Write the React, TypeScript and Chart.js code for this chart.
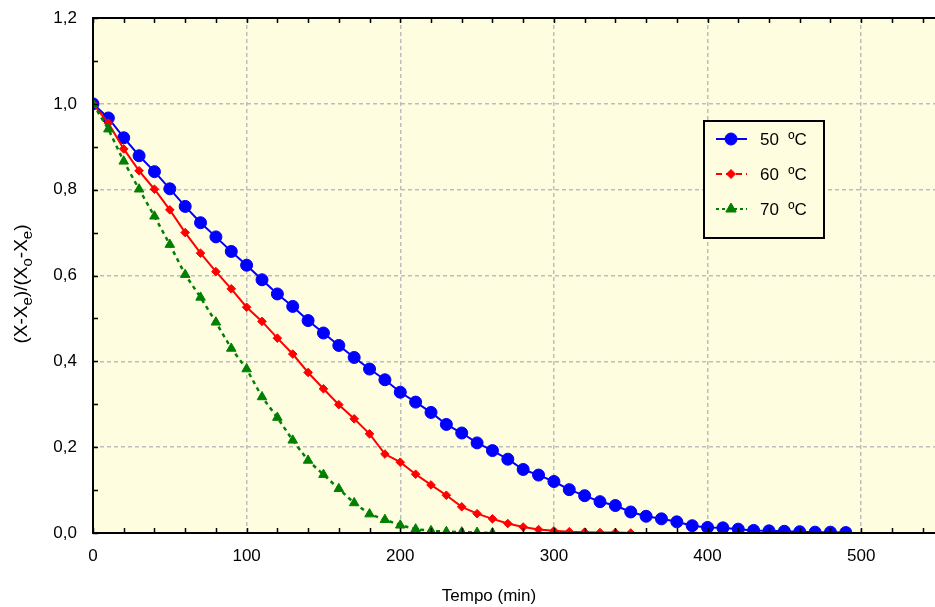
import React, { useEffect, useRef } from "react";
import { Chart, registerables } from "chart.js";

Chart.register(...registerables);

// Time (min), sampled every 10 minutes
const timeMin = [
  0, 10, 20, 30, 40, 50, 60, 70, 80, 90,
  100, 110, 120, 130, 140, 150, 160, 170, 180, 190,
  200, 210, 220, 230, 240, 250, 260, 270, 280, 290,
  300, 310, 320, 330, 340, 350, 360, 370, 380, 390,
  400, 410, 420, 430, 440, 450, 460, 470, 480, 490,
];

const series50 = [
  1.0, 0.967, 0.921, 0.879, 0.842, 0.802, 0.761, 0.723, 0.69, 0.656,
  0.624, 0.59, 0.557, 0.528, 0.495, 0.466, 0.437, 0.409, 0.382, 0.357,
  0.328, 0.305, 0.281, 0.253, 0.233, 0.21, 0.192, 0.172, 0.148, 0.135,
  0.12, 0.101, 0.087, 0.073, 0.064, 0.049, 0.039, 0.033, 0.026, 0.017,
  0.013, 0.012, 0.009, 0.006, 0.005, 0.004, 0.003, 0.002, 0.002, 0.001,
];

const series60 = [
  1.0, 0.955, 0.895, 0.844, 0.801, 0.753, 0.7, 0.652, 0.609, 0.569,
  0.526, 0.493, 0.454, 0.417, 0.374, 0.336, 0.299, 0.266, 0.231, 0.184,
  0.165, 0.137, 0.112, 0.088, 0.061, 0.045, 0.033, 0.022, 0.014, 0.008,
  0.005, 0.003, 0.002, 0.001, 0.001, 0.0,
];

const series70 = [
  1.0, 0.941, 0.866, 0.801, 0.738, 0.672, 0.602, 0.549, 0.491, 0.43,
  0.382, 0.317, 0.269, 0.216, 0.169, 0.136, 0.103, 0.07, 0.044, 0.031,
  0.018, 0.009, 0.005, 0.003, 0.002, 0.001, 0.0,
];

const seriesLabels = ["50  ºC", "60  ºC", "70  ºC"];
const xTitle = "Tempo (min)";
const yTitleParts: [string, boolean][] = [
  ["(X-X", false],
  ["e", true],
  [")/(X", false],
  ["o", true],
  ["-X", false],
  ["e", true],
  [")", false],
];
const xMax = 550;
const yMax = 1.2;

const FONT = "'Liberation Sans', Arial, Helvetica, sans-serif";
const BG = "#fffde0";

const toPoints = (ys: number[]) => ys.map((y, i) => ({ x: timeMin[i], y }));

function drawMarker(ctx: CanvasRenderingContext2D, style: string, r: number, x: number, y: number) {
  ctx.beginPath();
  if (style === "circle") {
    ctx.arc(x, y, r, 0, Math.PI * 2);
  } else if (style === "rectRot") {
    ctx.moveTo(x, y - r);
    ctx.lineTo(x + r, y);
    ctx.lineTo(x, y + r);
    ctx.lineTo(x - r, y);
    ctx.closePath();
  } else {
    ctx.moveTo(x, y - r);
    ctx.lineTo(x + r * 0.866, y + r * 0.5);
    ctx.lineTo(x - r * 0.866, y + r * 0.5);
    ctx.closePath();
  }
  ctx.fill();
  ctx.stroke();
}

export default function App() {
  const canvasRef = useRef<HTMLCanvasElement | null>(null);

  useEffect(() => {
    const canvas = canvasRef.current;
    if (!canvas) return;

    const decorPlugin = {
      id: "decor",
      beforeDraw(chart: any) {
        const { ctx, chartArea: a } = chart;
        ctx.save();
        ctx.fillStyle = "#ffffff";
        ctx.fillRect(0, 0, chart.width, chart.height);
        ctx.fillStyle = BG;
        ctx.fillRect(a.left, a.top, a.right - a.left, a.bottom - a.top);
        ctx.restore();
      },
      afterDraw(chart: any) {
        const { ctx, chartArea: a } = chart;
        const xs = chart.scales.x;
        const ys = chart.scales.y;
        ctx.save();
        // frame
        ctx.strokeStyle = "#000";
        ctx.lineWidth = 2;
        ctx.beginPath();
        ctx.moveTo(a.right + 2, a.top);
        ctx.lineTo(a.left, a.top);
        ctx.lineTo(a.left, a.bottom);
        ctx.lineTo(a.right + 2, a.bottom);
        ctx.stroke();
        // minor ticks
        ctx.lineWidth = 1.5;
        ctx.beginPath();
        for (let v = 0; v <= xMax; v += 20) {
          const px = Math.round(xs.getPixelForValue(v)) + 0.5;
          ctx.moveTo(px, a.bottom);
          ctx.lineTo(px, a.bottom - 5);
          ctx.moveTo(px, a.top);
          ctx.lineTo(px, a.top + 5);
        }
        for (let k = 0; k <= 12; k++) {
          const py = Math.round(ys.getPixelForValue(k / 10)) + 0.5;
          ctx.moveTo(a.left, py);
          ctx.lineTo(a.left + 5, py);
        }
        ctx.stroke();

        // legend
        const lx = 704, ly = 121, lw = 120, lh = 117;
        ctx.fillStyle = BG;
        ctx.fillRect(lx, ly, lw, lh);
        ctx.strokeStyle = "#000";
        ctx.lineWidth = 2;
        ctx.strokeRect(lx, ly, lw, lh);
        const rows = [139, 174, 209];
        const colors = ["#0000ff", "#ff0000", "#008000"];
        const dashes = [[], [6, 4], [3, 3]];
        const styles = ["circle", "rectRot", "triangle"];
        const radii = [6, 4.5, 6];
        rows.forEach((ry, i) => {
          ctx.strokeStyle = colors[i];
          ctx.lineWidth = 2;
          ctx.setLineDash(dashes[i]);
          ctx.beginPath();
          ctx.moveTo(716, ry);
          ctx.lineTo(747, ry);
          ctx.stroke();
          ctx.setLineDash([]);
          ctx.fillStyle = colors[i];
          ctx.strokeStyle = colors[i];
          ctx.lineWidth = 1;
          drawMarker(ctx, styles[i], radii[i], 731, ry);
          ctx.fillStyle = "#000";
          ctx.font = `17px ${FONT}`;
          ctx.textAlign = "left";
          ctx.textBaseline = "middle";
          ctx.fillText(seriesLabels[i], 760, ry + 1);
        });

        // x title
        ctx.fillStyle = "#000";
        ctx.font = `17px ${FONT}`;
        ctx.textAlign = "center";
        ctx.textBaseline = "middle";
        ctx.fillText(xTitle, 489, 596);

        // y title with subscripts
        const mainFont = `19px ${FONT}`;
        const subFont = `15px ${FONT}`;
        let total = 0;
        const widths = yTitleParts.map(([t, sub]) => {
          ctx.font = sub ? subFont : mainFont;
          const w = ctx.measureText(t).width;
          total += w;
          return w;
        });
        ctx.translate(21, 284);
        ctx.rotate(-Math.PI / 2);
        ctx.textAlign = "left";
        ctx.textBaseline = "alphabetic";
        let cx = -total / 2;
        yTitleParts.forEach(([t, sub], i) => {
          ctx.font = sub ? subFont : mainFont;
          ctx.fillText(t, cx, sub ? 11 : 6);
          cx += widths[i];
        });
        ctx.restore();
      },
    };

    const chart = new Chart(canvas, {
      type: "line",
      data: {
        datasets: [
          {
            label: seriesLabels[0],
            data: toPoints(series50),
            borderColor: "#0000ff",
            backgroundColor: "#0000ff",
            borderWidth: 2,
            pointStyle: "circle",
            pointRadius: 6,
            pointBorderWidth: 1,
            clip: 0,
            order: 3,
          },
          {
            label: seriesLabels[1],
            data: toPoints(series60),
            borderColor: "#ff0000",
            backgroundColor: "#ff0000",
            borderWidth: 2,
            pointStyle: "rectRot",
            pointRadius: 4.3,
            pointBorderWidth: 1,
            clip: 0,
            order: 2,
          },
          {
            label: seriesLabels[2],
            data: toPoints(series70),
            borderColor: "#008000",
            backgroundColor: "#008000",
            borderWidth: 2.5,
            borderDash: [4, 4],
            pointStyle: "triangle",
            pointRadius: 5.5,
            pointBorderWidth: 1,
            clip: 0,
            order: 1,
          },
        ],
      },
      options: {
        responsive: false,
        animation: false,
        devicePixelRatio: 1,
        layout: { padding: { left: 0, top: 18, right: 4, bottom: 0 } },
        plugins: {
          legend: { display: false },
          tooltip: { enabled: false },
          title: { display: false },
        },
        elements: { line: { tension: 0 } },
        scales: {
          x: {
            type: "linear",
            min: 0,
            max: xMax,
            afterFit: (s: any) => {
              s.height = 74;
              s.paddingLeft = 0;
              s.paddingRight = 0;
            },
            afterBuildTicks: (s: any) => {
              s.ticks = s.ticks.filter((t: any) => t.value % 100 === 0 && t.value <= 500);
            },
            ticks: {
              stepSize: 100,
              padding: 13,
              color: "#000",
              font: { family: FONT, size: 17 },
              maxRotation: 0,
              autoSkip: false,
              callback: (v: any) => String(v),
            },
            grid: {
              color: "#bdbdbd",
              lineWidth: 1.5,
              drawTicks: false,
            },
            border: { display: false, dash: [4, 3] },
          },
          y: {
            type: "linear",
            min: 0,
            max: yMax,
            afterFit: (s: any) => {
              s.width = 93;
              s.paddingTop = 0;
              s.paddingBottom = 0;
            },
            ticks: {
              stepSize: 0.2,
              padding: 16,
              color: "#000",
              font: { family: FONT, size: 17 },
              callback: (v: any) => Number(v).toFixed(1).replace(".", ","),
            },
            grid: {
              color: "#bdbdbd",
              lineWidth: 1.5,
              drawTicks: false,
            },
            border: { display: false, dash: [4, 3] },
          },
        },
      },
      plugins: [decorPlugin],
    } as any);

    return () => chart.destroy();
  }, []);

  return (
    <div
      style={{
        position: "fixed",
        left: 0,
        top: 0,
        width: 935,
        height: 607,
        overflow: "hidden",
        background: "#fff",
      }}
    >
      <canvas ref={canvasRef} width={945} height={607} style={{ display: "block" }} />
    </div>
  );
}
